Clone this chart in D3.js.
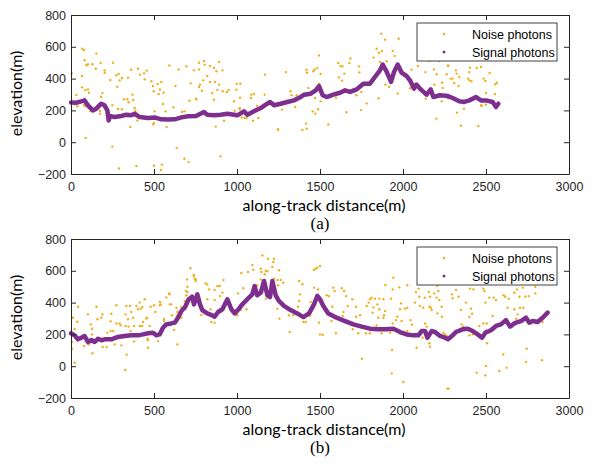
<!DOCTYPE html>
<html>
<head>
<meta charset="utf-8">
<script src="https://cdn.jsdelivr.net/npm/d3@7"></script>
<style>
  html, body { margin: 0; padding: 0; background: #fff; }
  svg { display: block; }
</style>
</head>
<body>
<script>
// tick values shared by both panels
const xTicks = [0, 500, 1000, 1500, 2000, 2500, 3000];
const yTicks = [-200, 0, 200, 400, 600, 800];
const legendLabels = ["Noise photons", "Signal photons"];

// panel (a): signal profile [distance, elevation]
const signalA = [
  [0, 250], [30, 248], [62, 257], [82, 263], [102, 232], [132, 200], [152, 211], [182, 242],
  [202, 232], [219, 200], [227, 137], [235, 165], [263, 158], [303, 165], [333, 173], [363, 169],
  [383, 179], [414, 158], [464, 152], [504, 156], [544, 144], [584, 142], [624, 144], [665, 156],
  [705, 163], [753, 165], [801, 190], [821, 173], [861, 169], [902, 173], [942, 179], [982, 173],
  [1002, 169], [1042, 194], [1062, 173], [1102, 194], [1143, 215], [1173, 236], [1199, 253],
  [1223, 232], [1263, 242], [1303, 253], [1343, 263], [1384, 284], [1404, 299], [1444, 305],
  [1474, 326], [1494, 353], [1516, 295], [1540, 284], [1580, 299], [1620, 311], [1651, 326],
  [1681, 316], [1721, 332], [1761, 368], [1801, 368], [1831, 410], [1861, 452], [1878, 488],
  [1902, 442], [1928, 379], [1946, 442], [1968, 488], [1992, 437], [2022, 416], [2042, 389],
  [2066, 337], [2082, 362], [2102, 337], [2142, 299], [2167, 332], [2183, 284], [2223, 295],
  [2271, 290], [2299, 278], [2339, 257], [2369, 253], [2400, 263], [2440, 284], [2470, 263],
  [2500, 263], [2540, 253], [2560, 221], [2574, 242]
];

// panel (a): noise photons [distance, elevation]
const noiseA = [
  [4, 432], [68, 588], [78, 580], [153, 557], [82, 515], [92, 484], [102, 490], [129, 490],
  [149, 462], [179, 498], [203, 452], [203, 437], [66, 416], [66, 345], [86, 328], [102, 332],
  [108, 311], [32, 297], [189, 309], [181, 286], [38, 226], [78, 232], [88, 226], [117, 194],
  [175, 198], [175, 179], [88, 26], [237, 391], [253, 500], [273, 421], [287, 429], [293, 389],
  [307, 404], [279, 349], [249, 232], [283, 209], [307, 207], [319, 270], [339, 270], [370, 299],
  [374, 265], [347, 251], [384, 215], [388, 198], [363, 456], [343, 406], [404, 462], [416, 425],
  [440, 433], [456, 450], [444, 395], [400, 137], [357, 96], [249, -28], [289, -165], [394, -150],
  [484, 383], [494, 353], [522, 366], [544, 379], [498, 320], [528, 303], [536, 332], [558, 311],
  [554, 240], [570, 194], [504, 194], [494, 112], [500, 121], [576, 96], [592, 483], [617, 219],
  [629, 353], [637, -37], [649, 458], [669, 190], [683, 194], [695, 477], [721, 370], [713, 261],
  [741, 452], [753, 274], [683, -104], [709, -125], [500, -148], [548, -141], [542, -175],
  [771, 500], [771, 458], [801, 511], [805, 488], [837, 479], [861, 467], [876, 446], [892, 504],
  [912, 452], [821, 416], [797, 389], [777, 362], [771, 347], [789, 324], [837, 379], [868, 379],
  [892, 362], [882, 328], [851, 309], [914, 320], [938, 316], [950, 328], [861, 267], [755, 270],
  [982, 257], [998, 368], [1020, 368], [996, 330], [1018, 280], [1016, 215], [1016, 207],
  [986, 198], [1028, 156], [1046, 152], [1058, 152], [922, 135], [872, 98], [900, -89],
  [1086, 299], [1102, 303], [1084, 278], [1120, 230], [1096, 135], [1128, 152], [1169, 425],
  [1167, 299], [1271, 205], [1247, 81], [1247, 77], [1295, 441], [1323, 320], [1329, 295],
  [1359, 295], [1351, 221], [1430, 341], [1418, 456], [1422, 437], [1460, 446], [1468, 458],
  [1484, 467], [1494, 546], [1504, 429], [1494, 368], [1470, 278], [1504, 257], [1488, 207],
  [1456, 194], [1472, 179], [1416, 117], [1420, 85], [1394, 77], [1610, 498], [1624, 479],
  [1635, 477], [1677, 498], [1683, 527], [1647, 431], [1614, 408], [1633, 387], [1735, 477],
  [1737, 439], [1596, 280], [1719, 295], [1749, 316], [1781, 244], [1747, 202], [1659, 188],
  [1550, 112], [1823, 532], [1841, 588], [1855, 563], [1873, 574], [1869, 683], [1892, 645],
  [1861, 504], [1902, 509], [1974, 651], [1938, 574], [1950, 542], [1815, 389], [1894, 362],
  [1916, 349], [1853, 276], [1968, 307], [2052, 456], [2090, 479], [2135, 441], [2159, 511],
  [2187, 458], [2203, 427], [2219, 511], [2042, 339], [2072, 368], [2137, 274], [2189, 362],
  [2235, 374], [2239, 341], [2233, 257], [2271, 278], [2201, 148], [2263, 427], [2271, 483],
  [2273, 479], [2319, 452], [2323, 431], [2339, 410], [2287, 400], [2299, 400], [2309, 372],
  [2335, 353], [2392, 400], [2398, 441], [2404, 469], [2400, 389], [2412, 383], [2444, 467],
  [2470, 473], [2486, 400], [2496, 385], [2522, 435], [2556, 364], [2566, 374], [2500, 309],
  [2554, 303], [2470, 232], [2474, 228], [2500, 236], [2325, 186], [2367, 211], [2349, 104],
  [2454, 102]
];

// panel (b): signal profile [distance, elevation]
const signalB = [
  [0, 207], [22, 194], [42, 169], [62, 179], [82, 190], [102, 152], [123, 165], [143, 152],
  [163, 173], [183, 163], [203, 169], [243, 169], [283, 184], [323, 190], [363, 194], [404, 194],
  [434, 200], [464, 207], [494, 211], [514, 194], [534, 200], [554, 242], [574, 263], [604, 269],
  [625, 274], [645, 305], [665, 347], [685, 368], [709, 421], [729, 437], [741, 389], [761, 452],
  [777, 389], [791, 353], [821, 332], [851, 320], [865, 311], [886, 341], [912, 358], [942, 421],
  [966, 358], [986, 332], [1012, 362], [1032, 389], [1062, 421], [1092, 452], [1106, 504],
  [1122, 446], [1143, 462], [1163, 536], [1183, 446], [1199, 435], [1213, 536], [1233, 446],
  [1253, 410], [1283, 379], [1323, 353], [1363, 332], [1400, 309], [1434, 332], [1464, 389],
  [1484, 442], [1500, 421], [1520, 379], [1550, 332], [1600, 305], [1651, 284], [1701, 263],
  [1751, 249], [1801, 236], [1851, 232], [1902, 232], [1942, 236], [1982, 215], [2022, 200],
  [2062, 194], [2092, 194], [2112, 221], [2133, 221], [2147, 179], [2173, 221], [2193, 215],
  [2223, 190], [2253, 179], [2271, 169], [2299, 194], [2319, 215], [2359, 232], [2390, 236],
  [2420, 221], [2450, 200], [2476, 179], [2496, 211], [2530, 226], [2560, 253], [2590, 263],
  [2620, 290], [2645, 249], [2671, 269], [2691, 278], [2711, 284], [2741, 305], [2761, 274],
  [2781, 284], [2811, 278], [2841, 305], [2871, 337]
];

// panel (b): noise photons [distance, elevation]
const noiseB = [
  [12, 305], [22, 232], [6, 152], [6, 110], [22, 22], [38, 280], [42, 374], [102, 326],
  [119, 263], [127, 236], [127, 200], [129, 81], [78, 127], [106, 137], [153, 374], [159, 295],
  [183, 305], [189, 326], [191, 121], [215, 121], [219, 211], [239, 221], [253, 221], [243, 330],
  [239, 282], [273, 383], [273, 269], [293, 269], [299, 257], [263, 137], [303, 131], [333, 379],
  [355, 379], [329, 326], [363, 341], [343, 295], [329, 253], [347, 249], [359, 221], [339, 190],
  [335, 72], [327, -24], [374, 305], [380, 156], [380, 253], [394, 379], [404, 358], [414, 400],
  [420, 362], [430, 372], [444, 421], [434, 278], [414, 253], [428, 253], [454, 299], [458, 305],
  [464, 163], [464, 116], [460, 173], [480, 374], [474, 253], [500, 383], [508, 341], [524, 158],
  [536, 404], [536, 383], [540, 389], [560, 297], [560, 284], [564, 249], [574, 433], [590, 458],
  [594, 452], [596, 389], [604, 389], [608, 320], [620, 228], [635, 368], [641, 341], [637, 316],
  [641, 137], [665, 305], [665, 372], [685, 410], [693, 473], [701, 500], [699, 546], [719, 616],
  [739, 574], [745, 551], [751, 536], [701, 467], [695, 446], [741, 567], [751, 546], [785, 322],
  [811, 521], [821, 513], [831, 483], [821, 421], [865, 479], [882, 504], [896, 504], [918, 542],
  [912, 462], [898, 441], [865, 416], [841, 358], [845, 278], [865, 274], [1006, 458],
  [1038, 490], [1026, 586], [1066, 592], [1092, 637], [1098, 607], [1153, 697], [1187, 676],
  [1223, 676], [1219, 655], [1143, 613], [1147, 592], [1173, 601], [1183, 597], [1167, 578],
  [1213, 624], [1253, 603], [1223, 551], [1243, 542], [1263, 542], [1279, 525], [1143, 546],
  [1122, 509], [1247, 509], [1173, 488], [1153, 467], [1173, 425], [1002, 320], [1022, 353],
  [1058, 358], [1243, 362], [1255, 299], [1313, 320], [1339, 320], [1317, 215], [1374, 536],
  [1394, 515], [1380, 452], [1374, 410], [1368, 374], [1444, 404], [1454, 383], [1464, 494],
  [1488, 483], [1474, 613], [1484, 620], [1500, 630], [1464, 605], [1440, 316], [1414, 278],
  [1400, 278], [1494, 274], [1500, 200], [1540, 446], [1554, 441], [1580, 494], [1588, 473],
  [1574, 374], [1570, 284], [1596, 207], [1516, 198], [1631, 490], [1645, 473], [1657, 441],
  [1641, 341], [1667, 379], [1637, 316], [1695, 421], [1717, 374], [1717, 311], [1741, 320],
  [1697, 232], [1731, 207], [1777, 207], [1801, 207], [1781, 379], [1801, 421], [1811, 431],
  [1793, 400], [1831, 425], [1857, 425], [1882, 421], [1845, 389], [1821, 370], [1857, 358],
  [1817, 337], [1851, 305], [1882, 305], [1886, 320], [1892, 347], [1841, 257], [1912, 242],
  [1871, 207], [1922, 211], [1938, 269], [1928, 425], [1942, 557], [1938, 483], [1894, 511],
  [1978, 496], [2026, 509], [1988, 395], [1982, 358], [2012, 362], [2026, 368], [1966, 311],
  [1958, 290], [1992, 284], [2046, 290], [2054, 261], [2026, 221], [2072, 400], [2078, 467],
  [2094, 488], [2098, 437], [2102, 379], [2122, 368], [2131, 431], [2155, 467], [2163, 437],
  [2189, 458], [2203, 431], [2213, 473], [2219, 416], [2159, 374], [2167, 368], [2173, 353],
  [2207, 332], [2133, 269], [2143, 249], [2118, 179], [2082, 116], [2159, 144], [2163, 123],
  [1934, 102], [1753, 47], [1932, -45], [2002, -99], [2235, 311], [2233, 374], [2243, 211],
  [2253, 200], [2207, 504], [2267, -141], [2299, 427], [2295, 452], [2319, 479], [2335, 437],
  [2349, 353], [2353, 263], [2363, 249], [2379, 400], [2404, 488], [2424, 483], [2410, 362],
  [2416, 330], [2400, 309], [2420, 200], [2400, 194], [2460, 253], [2484, 488], [2490, 473],
  [2496, 400], [2504, 269], [2484, 269], [2506, 144], [2520, 431], [2546, 431], [2560, 416],
  [2540, 316], [2604, 74], [2500, 2], [2496, -58], [2444, -41], [2580, -30], [2624, -9],
  [2606, 446], [2616, 437], [2637, 425], [2630, 368], [2671, 462], [2687, 483], [2701, 437],
  [2721, 494], [2737, 437], [2757, 441], [2797, 500], [2797, 458], [2671, 358], [2705, 368],
  [2725, 368], [2691, 326], [2711, 284], [2681, 299], [2841, 278], [2745, 110], [2741, 26],
  [2837, 37], [2275, -141], [2263, 190]
];

const width = 593;
const height = 465;
const plotLeft = 71;
const plotWidth = 498;
const plotHeight = 159;
const noiseColor = "#EDB120";
const signalColor = "#7E2F8E";
const axisColor = "#262626";

const panels = [
  { top: 15, signal: signalA, noise: noiseA, label: "(a)" },
  { top: 239, signal: signalB, noise: noiseB, label: "(b)" }
];

const svg = d3.select("body").append("svg")
  .attr("width", width)
  .attr("height", height)
  .style("font-family", "Arial, 'Liberation Sans', sans-serif");

const x = d3.scaleLinear().domain([0, 3000]).range([0, plotWidth]);
const y = d3.scaleLinear().domain([-200, 800]).range([plotHeight, 0]);
const fmt = d3.format("d");

function styleAxis(g) {
  g.selectAll("path").attr("stroke", axisColor).attr("stroke-width", 1);
  g.selectAll("line").attr("stroke", axisColor);
  g.selectAll("text").attr("fill", axisColor).style("font-size", "12.5px");
}

panels.forEach(p => {
  const g = svg.append("g").attr("transform", `translate(${plotLeft},${p.top})`);

  // noise photons
  g.append("g")
    .selectAll("circle")
    .data(p.noise)
    .join("circle")
    .attr("cx", d => x(d[0]))
    .attr("cy", d => y(d[1]))
    .attr("r", 1.2)
    .attr("fill", noiseColor);

  // signal photons
  const line = d3.line().x(d => x(d[0])).y(d => y(d[1]));
  g.append("path")
    .datum(p.signal)
    .attr("d", line)
    .attr("fill", "none")
    .attr("stroke", signalColor)
    .attr("stroke-width", 4.5)
    .attr("stroke-linejoin", "round")
    .attr("stroke-linecap", "round");

  // axes, ticks inside on all four sides
  g.append("g")
    .attr("transform", `translate(0,${plotHeight})`)
    .call(d3.axisBottom(x).tickValues(xTicks).tickFormat(fmt).tickSize(-5).tickSizeOuter(0).tickPadding(8))
    .call(styleAxis);
  g.append("g")
    .call(d3.axisTop(x).tickValues(xTicks).tickSize(-5).tickSizeOuter(0).tickFormat(""))
    .call(styleAxis);
  g.append("g")
    .call(d3.axisLeft(y).tickValues(yTicks).tickFormat(fmt).tickSize(-5).tickSizeOuter(0).tickPadding(5))
    .call(styleAxis);
  g.append("g")
    .attr("transform", `translate(${plotWidth},0)`)
    .call(d3.axisRight(y).tickValues(yTicks).tickSize(-5).tickSizeOuter(0).tickFormat(""))
    .call(styleAxis);

  // axis titles
  g.append("text")
    .attr("x", plotWidth / 2 + 4)
    .attr("y", plotHeight + 37)
    .attr("text-anchor", "middle")
    .style("font-family", "Lato, 'Open Sans', sans-serif")
    .style("font-size", "16px")
    .attr("fill", "#000")
    .text("along-track distance(m)");
  g.append("text")
    .attr("transform", `translate(${-49},${plotHeight / 2 - 1}) rotate(-90)`)
    .attr("text-anchor", "middle")
    .style("font-family", "Lato, 'Open Sans', sans-serif")
    .style("font-size", "16px")
    .attr("fill", "#000")
    .text("elevation(m)");
  g.append("text")
    .attr("x", plotWidth / 2)
    .attr("y", plotHeight + 55)
    .attr("text-anchor", "middle")
    .style("font-family", "'Liberation Serif', 'Times New Roman', serif")
    .style("font-size", "17px")
    .attr("fill", "#000")
    .text(p.label);

  // legend
  const lg = g.append("g").attr("transform", `translate(${346},${8})`);
  lg.append("rect")
    .attr("width", 140)
    .attr("height", 38)
    .attr("fill", "#fff")
    .attr("stroke", "#404040")
    .attr("stroke-width", 1);
  legendLabels.forEach((name, i) => {
    lg.append("circle")
      .attr("cx", 27)
      .attr("cy", 11 + i * 18)
      .attr("r", i === 0 ? 1.2 : 1.5)
      .attr("fill", i === 0 ? noiseColor : signalColor);
    lg.append("text")
      .attr("x", 55)
      .attr("y", 11 + i * 18)
      .attr("dy", "0.36em")
      .style("font-size", "12.5px")
      .attr("fill", "#000")
      .text(name);
  });
});
</script>
</body>
</html>
